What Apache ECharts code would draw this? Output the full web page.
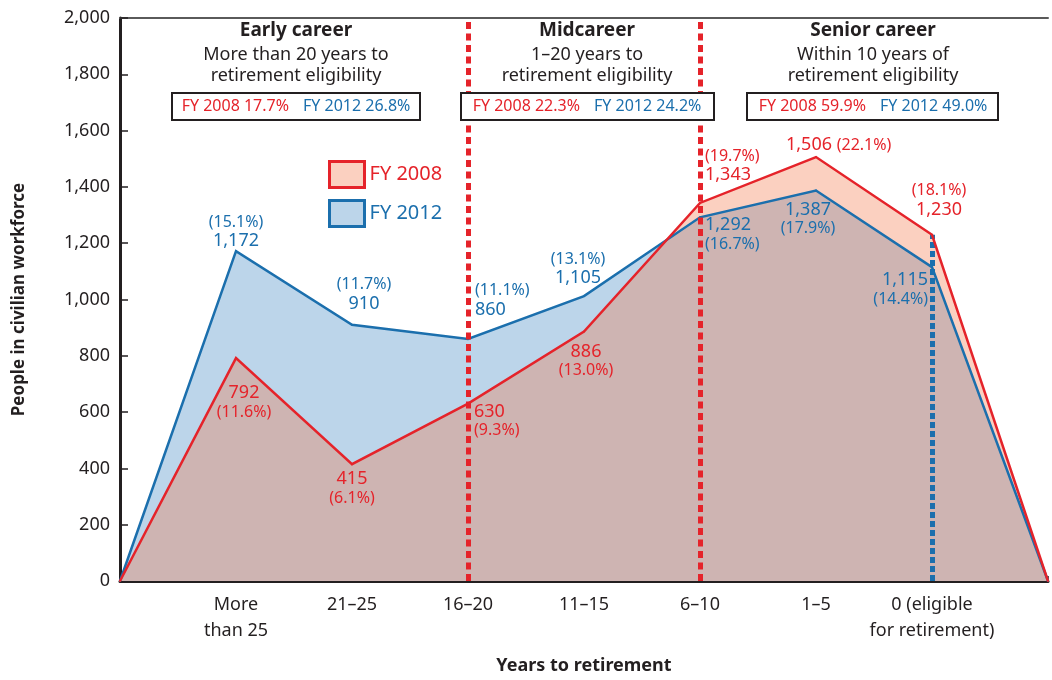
<!DOCTYPE html>
<html>
<head>
<meta charset="utf-8">
<script src="https://cdn.jsdelivr.net/npm/echarts@6/dist/echarts.min.js"></script>
<style>
  html, body { margin: 0; padding: 0; background: #fff; }
  #chart { width: 1052px; height: 680px; }
</style>
</head>
<body>
<div id="chart"></div>
<script>
const FONT = '"Noto Sans", sans-serif'
const RED = '#e5232a'
const BLUE = '#1b6fad'
const INK = '#231f20'

// x categories (first/last are the empty anchor points at 0)
const categories = ['', 'More\nthan 25', '21–25', '16–20', '11–15', '6–10', '1–5', '0 (eligible\nfor retirement)', '']

// plotted values as drawn
const fy2008 = [0, 792, 415, 630, 886, 1343, 1506, 1230, 0]
const fy2012 = [0, 1172, 910, 860, 1012, 1292, 1387, 1115, 0]

// printed labels
const fy2008Text = ['', '792', '415', '630', '886', '1,343', '1,506', '1,230', '']
const fy2008Pct = ['', '(11.6%)', '(6.1%)', '(9.3%)', '(13.0%)', '(19.7%)', '(22.1%)', '(18.1%)', '']
const fy2012Text = ['', '1,172', '910', '860', '1,105', '1,292', '1,387', '1,115', '']
const fy2012Pct = ['', '(15.1%)', '(11.7%)', '(11.1%)', '(13.1%)', '(16.7%)', '(17.9%)', '(14.4%)', '']

// career phases
const phaseTitle = ['Early career', 'Midcareer', 'Senior career']
const phaseLine1 = ['More than 20 years to', '1–20 years to', 'Within 10 years of']
const phaseLine2 = ['retirement eligibility', 'retirement eligibility', 'retirement eligibility']
const share2008 = ['17.7%', '22.3%', '59.9%']
const share2012 = ['26.8%', '24.2%', '49.0%']

// label placement: [dx, dy, align, order]
const redPlace = [null, [8, 44, 'center', 'vp'], [0, 24, 'center', 'vp'], [6, 17, 'left', 'vp'], [2, 29, 'center', 'vp'],
  [5, -37, 'left', 'pv'], [-30, -12, 'left', 'inline'], [7, -34, 'center', 'pv'], null]
const bluePlace = [null, [0, -19, 'center', 'pv'], [12, -30, 'center', 'pv'], [7, -38, 'left', 'pv'], [-6, -27, 'center', 'pv'],
  [5, 17, 'left', 'vp'], [-8, 28, 'center', 'vp'], [-4, 22, 'right', 'vp'], null]

function buildData(values, valText, pctText, place) {
  return values.map((v, i) => {
    const p = place[i]
    if (!p) return { value: v, label: { show: false } }
    const [dx, dy, align, order] = p
    let text
    if (order === 'pv') text = '{p|' + pctText[i] + '}\n{v|' + valText[i] + '}'
    else if (order === 'vp') text = '{v|' + valText[i] + '}\n{p|' + pctText[i] + '}'
    else text = '{v|' + valText[i] + '} {p|' + pctText[i] + '}'
    return {
      value: v,
      label: { show: true, position: 'inside', offset: [dx, dy], align, verticalAlign: 'middle', formatter: text }
    }
  })
}

function labelStyle(color) {
  return {
    color,
    fontFamily: FONT,
    fontSize: 18,
    textBorderWidth: 0,
    rich: {
      v: { color, fontFamily: FONT, fontSize: 18, lineHeight: 20, textBorderWidth: 0 },
      p: { color, fontFamily: FONT, fontSize: 16, lineHeight: 18, textBorderWidth: 0 }
    }
  }
}

// header blocks (drawn above the dashed dividers)
const centers = [296, 587, 873]
const boxLeft = [172, 461, 747]
const boxWidth = [248, 253, 251]
const graphic = []
phaseTitle.forEach((t, i) => {
  const cx = centers[i]
  graphic.push(
    { type: 'text', z: 100, x: cx, y: 31, style: { text: t, font: 'bold 19px ' + FONT, fill: INK, align: 'center', verticalAlign: 'middle', textAlign: 'center', textVerticalAlign: 'middle' } },
    { type: 'text', z: 100, x: cx, y: 55, style: { text: phaseLine1[i], font: '18px ' + FONT, fill: INK, align: 'center', verticalAlign: 'middle', textAlign: 'center', textVerticalAlign: 'middle' } },
    { type: 'text', z: 100, x: cx, y: 76, style: { text: phaseLine2[i], font: '18px ' + FONT, fill: INK, align: 'center', verticalAlign: 'middle', textAlign: 'center', textVerticalAlign: 'middle' } },
    { type: 'rect', z: 100, shape: { x: boxLeft[i], y: 93, width: boxWidth[i], height: 27 }, style: { fill: '#fff', stroke: INK, lineWidth: 2 } },
    { type: 'text', z: 101, x: cx - 7, y: 106.5, style: { text: 'FY 2008 ' + share2008[i], font: '16px ' + FONT, fill: RED, align: 'right', verticalAlign: 'middle', textAlign: 'right', textVerticalAlign: 'middle' } },
    { type: 'text', z: 101, x: cx + 7, y: 106.5, style: { text: 'FY 2012 ' + share2012[i], font: '16px ' + FONT, fill: BLUE, align: 'left', verticalAlign: 'middle', textAlign: 'left', textVerticalAlign: 'middle' } }
  )
})

const chart = echarts.init(document.getElementById('chart'))
const option = {
  animation: false,
  textStyle: { fontFamily: FONT },
  grid: { left: 120, right: 4, top: 18, bottom: 97, containLabel: false },
  legend: {
    orient: 'vertical',
    left: 323,
    top: 155,
    itemWidth: 35,
    itemHeight: 26,
    itemGap: 10,
    icon: 'rect',
    selectedMode: false,
    textStyle: { fontSize: 20, fontFamily: FONT },
    data: [
      { name: 'FY 2008', itemStyle: { color: '#fbd0c0', borderColor: RED, borderWidth: 3 }, textStyle: { color: RED } },
      { name: 'FY 2012', itemStyle: { color: '#bcd5ea', borderColor: BLUE, borderWidth: 3 }, textStyle: { color: BLUE } }
    ]
  },
  xAxis: [
    {
      type: 'category',
      data: categories,
      boundaryGap: false,
      axisLine: { show: true, lineStyle: { color: INK, width: 3 } },
      axisTick: { show: true, inside: true, length: 5, interval: 0, lineStyle: { color: INK, width: 1.5 } },
      axisLabel: { interval: 0, color: INK, fontSize: 18, fontFamily: FONT, lineHeight: 26, margin: 11 },
      splitLine: { show: false },
      name: 'Years to retirement',
      nameLocation: 'middle',
      nameGap: 76,
      nameTextStyle: { fontWeight: 'bold', fontSize: 18, color: INK, fontFamily: FONT }
    },
    {
      type: 'category',
      data: categories,
      boundaryGap: false,
      position: 'top',
      axisLine: { show: true, lineStyle: { color: '#5a5a5a', width: 2 } },
      axisTick: { show: false },
      axisLabel: { show: false },
      splitLine: { show: false }
    }
  ],
  yAxis: {
    type: 'value',
    min: 0,
    max: 2000,
    interval: 200,
    axisLine: { show: true, lineStyle: { color: INK, width: 3 } },
    axisTick: { show: true, inside: true, length: 8, lineStyle: { color: INK, width: 1.5 } },
    splitLine: { show: false },
    axisLabel: {
      color: INK,
      fontSize: 18,
      fontFamily: FONT,
      margin: 10,
      formatter: v => String(v).replace(/\B(?=(\d{3})+(?!\d))/g, ',')
    },
    name: 'People in civilian workforce',
    nameLocation: 'middle',
    nameGap: 92,
    nameTextStyle: { fontWeight: 'bold', fontSize: 17, color: INK, fontFamily: FONT }
  },
  graphic,
  series: [
    {
      name: 'FY 2012',
      type: 'line',
      data: fy2012,
      symbol: 'none',
      silent: true,
      z: 1,
      lineStyle: { width: 0, opacity: 0 },
      areaStyle: { color: '#bcd5ea', opacity: 1 }
    },
    {
      name: 'FY 2008',
      type: 'line',
      data: fy2008,
      symbol: 'none',
      silent: true,
      z: 2,
      lineStyle: { width: 0, opacity: 0 },
      areaStyle: { color: 'rgba(242,112,64,0.33)', opacity: 1 }
    },
    {
      name: 'FY 2012',
      type: 'line',
      data: buildData(fy2012, fy2012Text, fy2012Pct, bluePlace),
      symbol: 'circle',
      symbolSize: 2,
      showSymbol: true,
      silent: true,
      z: 4,
      itemStyle: { color: BLUE },
      lineStyle: { color: BLUE, width: 2.5, join: 'miter' },
      label: labelStyle(BLUE)
    },
    {
      name: 'FY 2008',
      type: 'line',
      data: buildData(fy2008, fy2008Text, fy2008Pct, redPlace),
      symbol: 'circle',
      symbolSize: 2,
      showSymbol: true,
      silent: true,
      z: 5,
      itemStyle: { color: RED },
      lineStyle: { color: RED, width: 2.5, join: 'miter' },
      label: labelStyle(RED),
      markLine: {
        symbol: ['none', 'none'],
        silent: true,
        label: { show: false },
        emphasis: { disabled: true },
        data: [
          { xAxis: categories[3], lineStyle: { color: RED, width: 5, type: [7, 4.5] } },
          { xAxis: categories[5], lineStyle: { color: RED, width: 5, type: [7, 4.5] } },
          [
            { coord: [7, 0], lineStyle: { color: BLUE, width: 5, type: [6, 3] } },
            { coord: [7, fy2008[7]] }
          ]
        ]
      }
    }
  ]
}
chart.setOption(option)
</script>
</body>
</html>
